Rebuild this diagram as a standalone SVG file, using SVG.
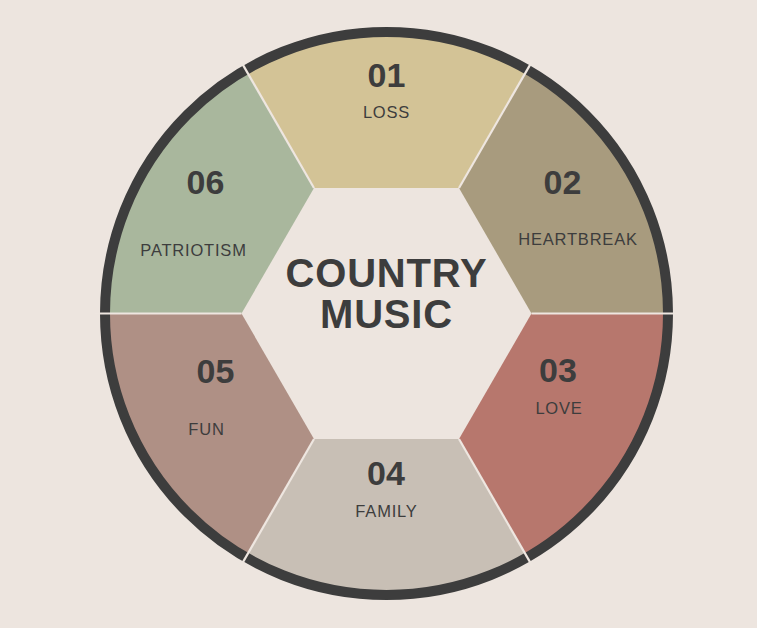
<svg xmlns="http://www.w3.org/2000/svg" width="757" height="628" viewBox="0 0 757 628">
  <style>
    .num { font-family: "Liberation Sans", Arial, sans-serif; font-weight: bold; font-size: 34px; fill: #3D3D3D; text-anchor: middle; }
    .lbl { font-family: "Liberation Sans", Arial, sans-serif; font-size: 16.5px; letter-spacing: 0.8px; fill: #3D3D3D; text-anchor: middle; }
    .title { font-family: "Liberation Sans", Arial, sans-serif; font-weight: bold; font-size: 40px; letter-spacing: 0.8px; fill: #3D3D3D; text-anchor: middle; }
    .sep { stroke: #EEE6E0; stroke-width: 2.2; fill: none; }
  </style>
  <rect width="757" height="628" fill="#EDE5DF"/>
  <g id="seg-01">
    <path d="M314,187.93 L245.5,69.28 A282,282 0 0 1 527.5,69.28 L459,187.93 Z" fill="#D3C396"/>
    <text class="num" x="386.5" y="87">01</text>
    <text class="lbl" x="386.5" y="118">LOSS</text>
  </g>
  <g id="seg-02">
    <path d="M459,187.93 L527.5,69.28 A282,282 0 0 1 668.5,313.5 L531.5,313.5 Z" fill="#A89B7E"/>
    <text class="num" x="562.5" y="193.5">02</text>
    <text class="lbl" x="578" y="245">HEARTBREAK</text>
  </g>
  <g id="seg-03">
    <path d="M531.5,313.5 L668.5,313.5 A282,282 0 0 1 527.5,557.72 L459,439.07 Z" fill="#B7776D"/>
    <text class="num" x="558" y="382">03</text>
    <text class="lbl" x="559" y="414">LOVE</text>
  </g>
  <g id="seg-04">
    <path d="M459,439.07 L527.5,557.72 A282,282 0 0 1 245.5,557.72 L314,439.07 Z" fill="#C8BFB5"/>
    <text class="num" x="386" y="485">04</text>
    <text class="lbl" x="386.5" y="516.5">FAMILY</text>
  </g>
  <g id="seg-05">
    <path d="M314,439.07 L245.5,557.72 A282,282 0 0 1 104.5,313.5 L241.5,313.5 Z" fill="#AF9085"/>
    <text class="num" x="215.5" y="383">05</text>
    <text class="lbl" x="206.5" y="435">FUN</text>
  </g>
  <g id="seg-06">
    <path d="M241.5,313.5 L104.5,313.5 A282,282 0 0 1 245.5,69.28 L314,187.93 Z" fill="#A9B79D"/>
    <text class="num" x="205.5" y="193.5">06</text>
    <text class="lbl" x="193.5" y="256">PATRIOTISM</text>
  </g>
  <circle id="ring" cx="386.5" cy="313.5" r="281.5" fill="none" stroke="#3D3D3D" stroke-width="10"/>
  <g id="separators">
    <line class="sep" x1="531.5" y1="313.5" x2="678.5" y2="313.5"/>
    <line class="sep" x1="459" y1="439.07" x2="532.5" y2="566.38"/>
    <line class="sep" x1="314" y1="439.07" x2="240.5" y2="566.38"/>
    <line class="sep" x1="241.5" y1="313.5" x2="94.5" y2="313.5"/>
    <line class="sep" x1="314" y1="187.93" x2="240.5" y2="60.62"/>
    <line class="sep" x1="459" y1="187.93" x2="532.5" y2="60.62"/>
  </g>
  <g id="center">
    <text class="title" x="386.5" y="287">COUNTRY</text>
    <text class="title" x="386.5" y="328">MUSIC</text>
  </g>
</svg>
